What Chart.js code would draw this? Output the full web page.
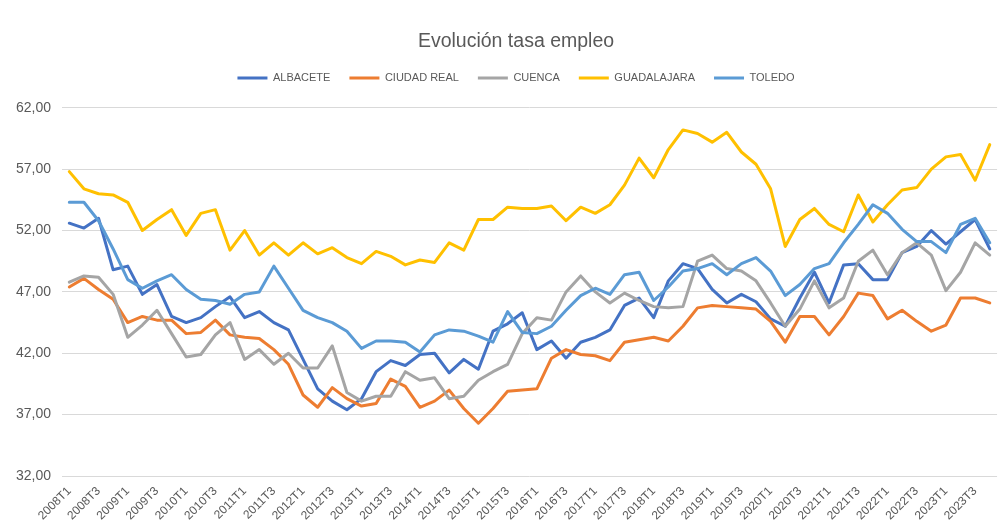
<!DOCTYPE html>
<html lang="es">
<head>
<meta charset="utf-8">
<title>Evolución tasa empleo</title>
<script src="https://cdn.jsdelivr.net/npm/chart.js@4.4.1/dist/chart.umd.min.js"></script>
<style>
  html, body { margin: 0; padding: 0; background: #fff; }
  #wrap { position: relative; width: 1008px; height: 531px; }
</style>
</head>
<body>
<div id="wrap"><canvas id="chart"></canvas></div>
<script>
'use strict';

// ── Data (quarterly, 2008T1 – 2023T4) ───────────────────────────────
const years = [2008, 2009, 2010, 2011, 2012, 2013, 2014, 2015, 2016, 2017, 2018, 2019, 2020, 2021, 2022, 2023];
const quarters = ['T1', 'T2', 'T3', 'T4'];
const labels = years.flatMap(y => quarters.map(q => `${y}${q}`));

const albacete = [
  52.6, 52.2, 53.0, 48.8, 49.1, 46.8, 47.6, 45.0, 44.5, 44.9,
  45.8, 46.6, 44.9, 45.4, 44.5, 43.9, 41.5, 39.1, 38.1, 37.4,
  38.3, 40.5, 41.4, 41.0, 41.9, 42.0, 40.4, 41.5, 40.7, 43.8,
  44.4, 45.3, 42.3, 43.0, 41.6, 42.9, 43.3, 43.9, 45.9, 46.5,
  44.9, 47.9, 49.3, 48.9, 47.2, 46.1, 46.8, 46.2, 44.8, 44.2,
  46.5, 48.6, 46.1, 49.2, 49.3, 48.0, 48.0, 50.2, 50.7, 52.0,
  50.9, 51.9, 52.9, 50.5
];
const ciudadReal = [
  47.4, 48.1, 47.2, 46.4, 44.5, 45.0, 44.7, 44.7, 43.6, 43.7,
  44.7, 43.5, 43.3, 43.2, 42.3, 41.1, 38.6, 37.6, 39.2, 38.3,
  37.7, 37.9, 39.9, 39.3, 37.6, 38.1, 39.0, 37.5, 36.3, 37.5,
  38.9, 39.0, 39.1, 41.6, 42.3, 41.9, 41.8, 41.4, 42.9, 43.1,
  43.3, 43.0, 44.2, 45.7, 45.9, 45.8, 45.7, 45.6, 44.6, 42.9,
  45.0, 45.0, 43.5, 45.0, 46.9, 46.7, 44.8, 45.5, 44.6, 43.8,
  44.3, 46.5, 46.5, 46.1
];
const cuenca = [
  47.8, 48.3, 48.2, 46.8, 43.3, 44.3, 45.5, 43.6, 41.7, 41.9,
  43.5, 44.5, 41.5, 42.3, 41.1, 42.0, 40.8, 40.8, 42.6, 38.8,
  38.1, 38.5, 38.5, 40.5, 39.8, 40.0, 38.3, 38.5, 39.8, 40.5,
  41.1, 43.6, 44.9, 44.7, 47.0, 48.3, 47.0, 46.1, 46.9, 46.3,
  45.8, 45.7, 45.8, 49.5, 50.0, 48.9, 48.7, 47.9, 46.1, 44.2,
  45.6, 47.9, 45.7, 46.5, 49.5, 50.4, 48.4, 50.2, 51.0, 50.0,
  47.1, 48.6, 51.0, 50.0
];
const guadalajara = [
  56.8, 55.4, 55.0, 54.9, 54.3, 52.0, 52.9, 53.7, 51.6, 53.4,
  53.7, 50.4, 52.0, 50.0, 51.0, 50.0, 51.0, 50.1, 50.6, 49.8,
  49.3, 50.3, 49.9, 49.2, 49.6, 49.4, 51.0, 50.4, 52.9, 52.9,
  53.9, 53.8, 53.8, 54.0, 52.8, 53.9, 53.4, 54.1, 55.7, 57.9,
  56.3, 58.6, 60.2, 59.9, 59.2, 60.0, 58.4, 57.4, 55.4, 50.7,
  52.9, 53.8, 52.5, 51.9, 54.9, 52.7, 54.1, 55.3, 55.5, 57.0,
  58.0, 58.2, 56.1, 59.0
];
const toledo = [
  54.3, 54.3, 52.8, 50.5, 48.0, 47.3, 47.9, 48.4, 47.2, 46.4,
  46.3, 46.0, 46.8, 47.0, 49.1, 47.3, 45.5, 44.9, 44.5, 43.8,
  42.4, 43.0, 43.0, 42.9, 42.1, 43.5, 43.9, 43.8, 43.4, 42.9,
  45.4, 43.7, 43.6, 44.2, 45.5, 46.7, 47.3, 46.8, 48.4, 48.6,
  46.3, 47.4, 48.7, 48.9, 49.3, 48.4, 49.3, 49.8, 48.7, 46.7,
  47.6, 48.9, 49.3, 51.0, 52.5, 54.1, 53.4, 52.1, 51.1, 51.1,
  50.2, 52.5, 53.0, 51.0
];

const seriesNames = ['ALBACETE', 'CIUDAD REAL', 'CUENCA', 'GUADALAJARA', 'TOLEDO'];
const seriesValues = [albacete, ciudadReal, cuenca, guadalajara, toledo];
const seriesColors = ['#4472C4', '#ED7D31', '#A5A5A5', '#FFC000', '#5B9BD5'];

// ── Chart ────────────────────────────────────────────────────────────
const FONT = "'Liberation Sans', Arial, sans-serif";
const TEXT = '#595959';

const datasets = seriesNames.map((name, i) => ({
  label: name,
  data: seriesValues[i],
  borderColor: seriesColors[i],
  backgroundColor: seriesColors[i],
  borderWidth: 3,
  borderJoinStyle: 'round',
  borderCapStyle: 'round',
  pointRadius: 0,
  pointHoverRadius: 0,
  tension: 0,
  fill: false,
  order: seriesNames.length - i   // later series drawn on top, as in Excel
}));

// y tick labels sit partly inside the left layout padding: widen their clip box
const yLabelRoom = {
  id: 'yLabelRoom',
  afterLayout(chart) { chart.scales.y.left = 0; }
};

new Chart(document.getElementById('chart').getContext('2d'), {
  type: 'line',
  data: { labels, datasets },
  plugins: [yLabelRoom],
  options: {
    responsive: true, maintainAspectRatio: false,
    animation: false,
    layout: { padding: { left: 31, right: 7, top: 0, bottom: 0 } },
    scales: {
      x: {
        offset: true,
        grid: { display: false, drawTicks: false },
        border: { display: false },
        ticks: {
          autoSkip: false, maxRotation: 45, minRotation: 45, padding: 8,
          color: TEXT, font: { size: 12, family: FONT },
          callback: (v, i) => (i % 2 === 0 ? labels[i] : '')
        },
        afterFit: s => { s.height = 55; }
      },
      y: {
        min: 32, max: 62,
        grid: { color: '#d9d9d9', lineWidth: 1, drawTicks: false },
        border: { display: false },
        ticks: {
          stepSize: 5, padding: 11,
          color: TEXT, font: { size: 14, family: FONT },
          callback: v => v.toFixed(2).replace('.', ',')
        },
        afterFit: s => { s.width = 31; }
      }
    },
    plugins: {
      title: {
        display: true, text: 'Evolución tasa empleo',
        color: TEXT, font: { size: 19.5, weight: 'normal', family: FONT },
        padding: { top: 30, bottom: 0 }
      },
      legend: {
        position: 'top', weight: 1800,
        labels: {
          color: TEXT, font: { size: 11, family: FONT },
          boxWidth: 30, boxHeight: 3, padding: 19,
          generateLabels: chart => Chart.defaults.plugins.legend.labels.generateLabels(chart)
            .sort((a, b) => a.datasetIndex - b.datasetIndex)
            .map(l => ({ ...l, lineWidth: 0 }))
        }
      },
      // empty subtitle used as a spacer between legend and plot
      subtitle: {
        display: true, text: ' ',
        font: { size: 12, family: FONT },
        padding: 0
      },
      tooltip: { enabled: false }
    }
  }
});
</script>
</body>
</html>
